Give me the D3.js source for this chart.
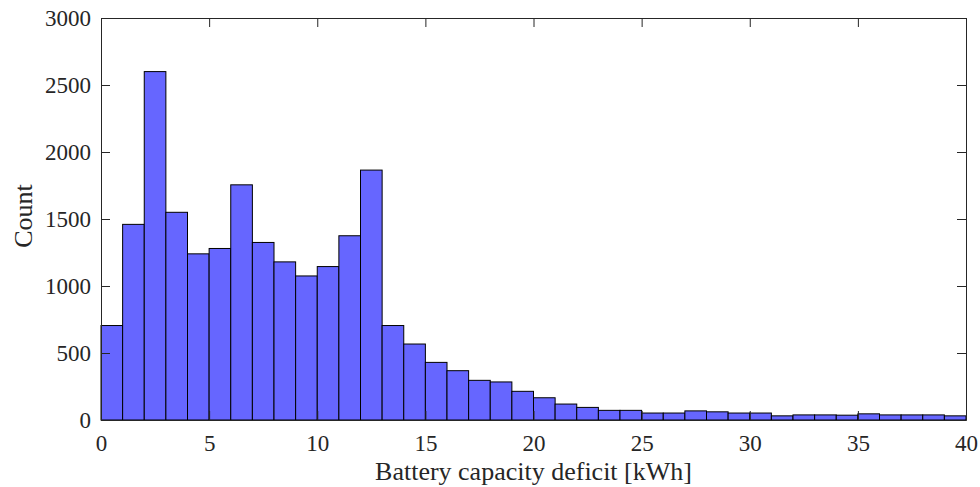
<!DOCTYPE html>
<html>
<head>
<meta charset="utf-8">
<script src="https://cdn.jsdelivr.net/npm/d3@7"></script>
<style>
  html, body { margin: 0; padding: 0; background: #fff; }
  svg { display: block; }
  text { font-family: "Liberation Serif", "Times New Roman", serif; fill: #262626; }
</style>
</head>
<body>
<svg id="chart" width="980" height="487"></svg>
<script>
// Histogram bins: each bin starts at binStart[i] and is 1 kWh wide
const binStart = d3.range(0, 40);
const binWidth = 1;
const counts = [
  705, 1460, 2600, 1550, 1240, 1280, 1755, 1325, 1180, 1075,
  1145, 1375, 1865, 705, 567, 430, 368, 296, 284, 214,
  166, 119, 94, 72, 72, 52, 52, 68, 61, 52,
  52, 31, 38, 38, 36, 46, 38, 38, 38, 31
];
const xTicks = [0, 5, 10, 15, 20, 25, 30, 35, 40];
const yTicks = [0, 500, 1000, 1500, 2000, 2500, 3000];
const xLabel = "Battery capacity deficit [kWh]";
const yLabel = "Count";

const svg = d3.select("#chart");
const plotLeft = 101, plotRight = 966, plotTop = 18, plotBottom = 420;

const x = d3.scaleLinear().domain([0, 40]).range([plotLeft, plotRight]);
const y = d3.scaleLinear().domain([0, 3000]).range([plotBottom, plotTop]);

// Bars
svg.append("g")
  .selectAll("rect")
  .data(binStart)
  .join("rect")
  .attr("x", (d) => x(d))
  .attr("width", (d) => x(d + binWidth) - x(d))
  .attr("y", (d, i) => y(counts[i]))
  .attr("height", (d, i) => y(0) - y(counts[i]))
  .attr("fill", "#6666ff")
  .attr("stroke", "#000")
  .attr("stroke-width", 1);

const tickLen = 9;
const axisColor = "#262626";

function styleAxis(g) {
  g.attr("font-family", null).attr("font-size", null);
  g.select(".domain").attr("stroke", axisColor).attr("stroke-width", 1);
  g.selectAll(".tick line").attr("stroke", axisColor).attr("stroke-width", 1);
  g.selectAll(".tick text")
    .style("font-size", "23px")
    .attr("fill", axisColor);
}

// Bottom axis (ticks pointing inward)
const gx = svg.append("g")
  .attr("transform", `translate(0,${plotBottom})`)
  .call(d3.axisBottom(x).tickValues(xTicks).tickFormat(d3.format("d"))
    .tickSizeInner(-tickLen).tickSizeOuter(0).tickPadding(15));
styleAxis(gx);

// Top axis mirror
const gxt = svg.append("g")
  .attr("transform", `translate(0,${plotTop})`)
  .call(d3.axisTop(x).tickValues(xTicks).tickFormat("")
    .tickSizeInner(-tickLen).tickSizeOuter(0));
styleAxis(gxt);

// Left axis
const gy = svg.append("g")
  .attr("transform", `translate(${plotLeft},0)`)
  .call(d3.axisLeft(y).tickValues(yTicks).tickFormat(d3.format("d"))
    .tickSizeInner(-tickLen).tickSizeOuter(0).tickPadding(10));
styleAxis(gy);

// Right axis mirror
const gyr = svg.append("g")
  .attr("transform", `translate(${plotRight},0)`)
  .call(d3.axisRight(y).tickValues(yTicks).tickFormat("")
    .tickSizeInner(-tickLen).tickSizeOuter(0));
styleAxis(gyr);

// Axis titles
svg.append("text")
  .attr("x", (plotLeft + plotRight) / 2)
  .attr("y", 480)
  .attr("text-anchor", "middle")
  .style("font-size", "26px")
  .text(xLabel);

svg.append("text")
  .attr("transform", `translate(31.5,216) rotate(-90)`)
  .attr("text-anchor", "middle")
  .style("font-size", "26px")
  .text(yLabel);
</script>
</body>
</html>
